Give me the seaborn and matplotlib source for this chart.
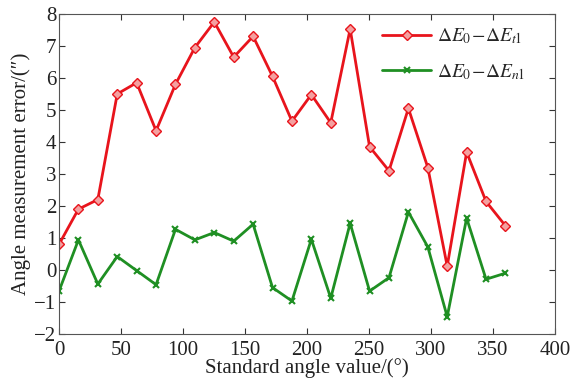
import numpy as np
import pandas as pd
import matplotlib
matplotlib.use("Agg")
import matplotlib.pyplot as plt
import seaborn as sns

angles = [0, 15.65, 31.3, 46.96, 62.61, 78.26, 93.91, 109.57, 125.22, 140.87,
          156.52, 172.17, 187.83, 203.48, 219.13, 234.78, 250.43, 266.09,
          281.74, 297.39, 313.04, 328.70, 344.35, 360]
err_t1 = [0.8, 1.9, 2.2, 5.5, 5.85, 4.35, 5.8, 6.95, 7.75, 6.65, 7.3, 6.05,
          4.65, 5.48, 4.6, 7.53, 3.85, 3.1, 5.05, 3.2, 0.12, 3.68, 2.14, 1.38]
err_n1 = [-0.66, 0.94, -0.44, 0.42, -0.02, -0.46, 1.27, 0.94, 1.17, 0.9, 1.43,
          -0.55, -0.97, 0.96, -0.88, 1.46, -0.66, -0.24, 1.81, 0.72, -1.46,
          1.62, -0.29, -0.1]
label_t1 = r"$\Delta E_0\!-\!\Delta E_{t1}$"
label_n1 = r"$\Delta E_0\!-\!\Delta E_{n1}$"
xticks = [0, 50, 100, 150, 200, 250, 300, 350, 400]
yticks = [-2, -1, 0, 1, 2, 3, 4, 5, 6, 7, 8]

sns.set_theme(style="ticks")
plt.rcParams['font.family'] = ['Liberation Serif', 'DejaVu Serif']
plt.rcParams['mathtext.fontset'] = 'stix'

df = pd.DataFrame({"angle": angles, "t1": err_t1, "n1": err_n1})

fig = plt.figure(figsize=(5.74, 3.87), dpi=100)
ax = fig.add_axes([0.1028, 0.137, 0.8642, 0.827])

red = "#e8141c"
green = "#1f8f23"
sns.lineplot(data=df, x="angle", y="t1", ax=ax, color=red, lw=2,
             marker="D", markersize=5, markerfacecolor="#f4a0a0",
             markeredgecolor=red, markeredgewidth=1, label=label_t1)
sns.lineplot(data=df, x="angle", y="n1", ax=ax, color=green, lw=2,
             marker="x", markersize=4, markeredgecolor=green,
             markeredgewidth=1.5, label=label_n1)

ax.set_xlim(0, 400)
ax.set_ylim(-2, 8)
ax.set_xticks(xticks)
ax.set_yticks(yticks)
ax.tick_params(direction="in", top=True, right=True, labelsize=15,
               length=4, width=0.8, pad=2, colors="#333333")
ax.tick_params(axis="x", pad=5)
for lbl in ax.get_xticklabels() + ax.get_yticklabels():
    lbl.set_color("#222222")
for s in ax.spines.values():
    s.set_color("#555555")
    s.set_linewidth(0.8)
ax.set_xlabel("Standard angle value/(°)", fontsize=15, labelpad=-1, color="#222222")
ax.set_ylabel("Angle measurement error/(″)", fontsize=15, labelpad=2, color="#222222")
ax.grid(False)
ax.legend(loc="upper right", frameon=False, fontsize=14, handlelength=2.5,
          bbox_to_anchor=(0.975, 1.015), labelspacing=0.8, handletextpad=0.3)

fig.savefig("out.png", dpi=100)
